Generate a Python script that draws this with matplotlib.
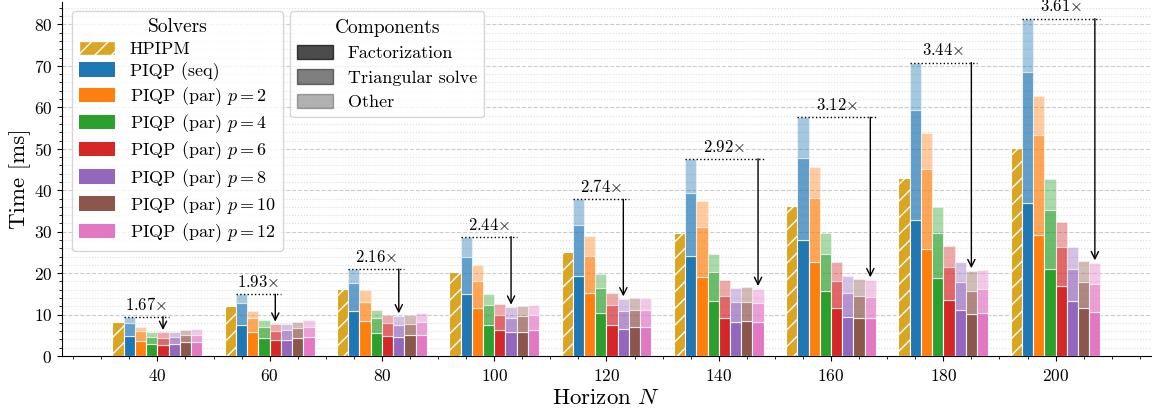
import matplotlib
matplotlib.use('Agg')
import matplotlib.pyplot as plt
import numpy as np
from matplotlib.patches import Patch
from matplotlib.ticker import MultipleLocator

plt.rcParams['font.family'] = 'cmr10'
plt.rcParams['mathtext.fontset'] = 'cm'
plt.rcParams['axes.formatter.use_mathtext'] = True

# Horizon lengths
horizons = [40, 60, 80, 100, 120, 140, 160, 180, 200]

# HPIPM total time [ms]
hpipm = [8.1, 12.0, 16.3, 20.3, 25.0, 29.7, 36.1, 42.9, 50.2]

solvers = ['PIQP (seq)', 'PIQP (par) $p=2$', 'PIQP (par) $p=4$', 'PIQP (par) $p=6$',
           'PIQP (par) $p=8$', 'PIQP (par) $p=10$', 'PIQP (par) $p=12$']

# component times [ms], one row per solver
factorization = [
    [4.8, 7.6, 10.9, 14.9, 19.4, 24.1, 28.1, 32.8, 36.9],
    [3.6, 5.7, 8.4, 11.7, 15.3, 19.1, 22.6, 25.9, 29.3],
    [3.0, 4.3, 5.5, 7.6, 10.5, 13.2, 15.6, 18.8, 21.1],
    [2.7, 3.8, 4.8, 6.3, 7.5, 9.1, 11.5, 13.6, 17.0],
    [2.9, 3.9, 4.7, 5.7, 6.6, 8.2, 9.5, 11.2, 13.4],
    [3.4, 4.3, 5.0, 5.9, 7.1, 8.4, 9.3, 10.1, 11.5],
    [3.4, 4.6, 5.2, 6.3, 6.9, 8.2, 9.1, 10.4, 10.7],
]
tri_solve = [
    [3.1, 5.2, 6.7, 9.1, 12.1, 15.3, 19.8, 26.5, 31.7],
    [2.4, 3.4, 4.7, 6.5, 8.9, 12.1, 15.6, 19.2, 24.0],
    [1.7, 2.6, 3.6, 4.6, 5.9, 7.1, 9.1, 11.0, 14.2],
    [1.7, 2.3, 3.2, 3.7, 4.7, 5.5, 6.6, 7.8, 9.3],
    [1.8, 2.3, 2.9, 3.6, 4.2, 4.8, 5.8, 6.7, 7.7],
    [1.6, 2.4, 2.7, 3.7, 4.0, 4.7, 5.3, 5.7, 6.3],
    [1.8, 2.3, 2.9, 3.5, 4.3, 4.6, 5.2, 5.7, 6.6],
]
other = [
    [1.6, 2.1, 3.4, 4.8, 6.3, 8.2, 9.7, 11.5, 12.8],
    [1.1, 1.8, 2.8, 3.7, 4.7, 6.1, 7.4, 8.6, 9.4],
    [1.2, 1.7, 2.1, 2.7, 3.5, 4.4, 5.1, 6.2, 7.3],
    [1.3, 1.6, 2.0, 2.5, 3.1, 3.7, 4.5, 5.2, 6.1],
    [1.2, 1.6, 2.1, 2.5, 3.0, 3.5, 4.1, 4.8, 5.2],
    [1.2, 1.6, 2.1, 2.4, 2.9, 3.5, 4.0, 4.8, 5.1],
    [1.3, 1.8, 2.3, 2.5, 2.9, 3.5, 4.1, 4.6, 5.2],
]

# speedup of best parallel run vs sequential
speedups = [1.67, 1.93, 2.16, 2.44, 2.74, 2.92, 3.12, 3.44, 3.61]

colors = ['tab:blue', 'tab:orange', 'tab:green', 'tab:red', 'tab:purple', 'tab:brown', 'tab:pink']
hpipm_color = 'goldenrod'
components = ['Factorization', 'Triangular solve', 'Other']
comp_alpha = [1.0, 0.7, 0.4]
width = 2.0

fig, ax = plt.subplots(figsize=(11.54, 4.15), dpi=100)
fig.subplots_adjust(left=0.0537, right=0.9974, bottom=0.142, top=0.995)

x = np.array(horizons, dtype=float)
ax.bar(x - 3.5 * width, hpipm, width, color=hpipm_color, edgecolor='white',
       hatch='//', linewidth=0.8, zorder=3)

totals = []
for j in range(len(solvers)):
    off = (j + 1 - 3.5) * width
    bottom = np.zeros(len(x))
    for vals, a in zip([factorization[j], tri_solve[j], other[j]], comp_alpha):
        ax.bar(x + off, vals, width, bottom=bottom, color=colors[j], alpha=a,
               edgecolor='white', linewidth=0.8, zorder=3)
        bottom = bottom + np.array(vals)
    totals.append(bottom)
totals = np.array(totals)

# speedup annotations
for k, n in enumerate(horizons):
    seq_tot = totals[0, k]
    best = int(np.argmin(totals[1:, k])) + 1
    bx = n + (best + 1 - 3.5) * width
    x0 = n + (1 - 3.5) * width - width / 2
    x1 = bx + width / 2
    ax.plot([x0, x1], [seq_tot, seq_tot], ls=':', color='k', lw=1, zorder=4)
    ax.annotate('', xy=(bx, totals[best, k] + 0.6), xytext=(bx, seq_tot),
                arrowprops=dict(arrowstyle='->', color='k', lw=1, shrinkA=0, shrinkB=0,
                                mutation_scale=13), zorder=4)
    ax.annotate(f'{speedups[k]:.2f}' + r'$\times$', xy=((x0 + x1) / 2, seq_tot),
                xytext=(0, 3), textcoords='offset points', ha='center', va='bottom',
                fontsize=12, annotation_clip=False)

ax.set_xlim(horizons[0] - 17, horizons[-1] + 17)
ax.set_ylim(0, 85.4)
ax.set_xticks(horizons)
ax.xaxis.set_minor_locator(MultipleLocator(5))
ax.yaxis.set_major_locator(MultipleLocator(10))
ax.yaxis.set_minor_locator(MultipleLocator(2))
ax.tick_params(labelsize=12.5)
ax.tick_params(axis='x', which='major', pad=5)
ax.spines[['top', 'right']].set_visible(False)
ax.set_axisbelow(True)
ax.yaxis.grid(True, which='major', ls='--', color='#cccccc', lw=0.8)
ax.yaxis.grid(True, which='minor', ls=':', color='#dddddd', lw=0.8)
ax.set_xlabel('Horizon $N$', fontsize=16.5, labelpad=3)
ax.set_ylabel('Time [ms]', fontsize=16.5, labelpad=2)

solver_handles = [Patch(facecolor=hpipm_color, edgecolor='white', hatch='//', label='HPIPM')]
solver_handles += [Patch(facecolor=c, label=s) for c, s in zip(colors, solvers)]
leg1 = ax.legend(handles=solver_handles, title='Solvers', loc='upper left',
                 bbox_to_anchor=(0.0092, 0.974), borderaxespad=0, fontsize=13,
                 title_fontsize=14, handlelength=2.0, handleheight=0.85,
                 labelspacing=0.25)
ax.add_artist(leg1)
comp_handles = [Patch(facecolor='k', edgecolor='k', alpha=a, label=l)
                for a, l in zip([0.7, 0.5, 0.3], components)]
ax.legend(handles=comp_handles, title='Components', loc='upper left',
          bbox_to_anchor=(0.2094, 0.974), borderaxespad=0, fontsize=13,
          title_fontsize=14, handlelength=2.0, handleheight=0.85, labelspacing=0.45)

fig.savefig('out.png', dpi=100)
